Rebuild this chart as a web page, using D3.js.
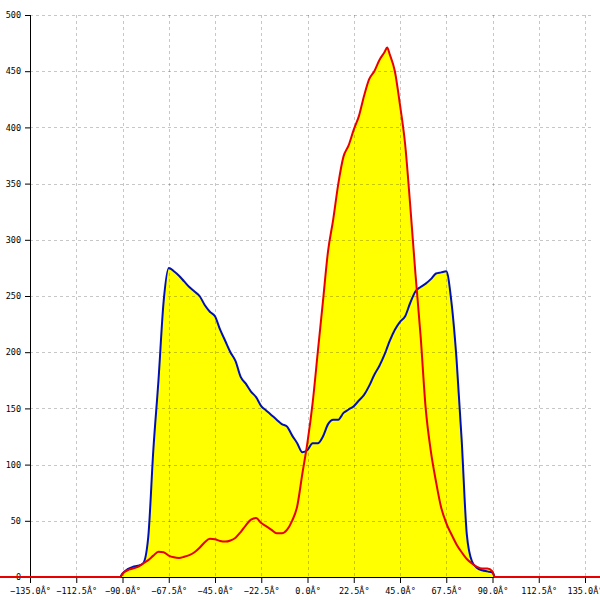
<!DOCTYPE html>
<html><head><meta charset="utf-8">
<script src="https://cdn.jsdelivr.net/npm/d3@7"></script>
<style>body{margin:0;background:#fff}svg{display:block}</style>
</head><body>
<svg id="c" width="600" height="600"></svg>
<script>
const angles = [-90,-87.5,-85,-82.5,-80,-77.5,-75,-72.5,-70,-67.5,-65,-62.5,-60,-57.5,-55,-52.5,-50,-47.5,-45,-42.5,-40,-37.5,-35,-32.5,-30,-27.5,-25,-22.5,-20,-17.5,-15,-12.5,-10,-7.5,-5,-2.5,0,2.5,5,7.5,10,12.5,15,17.5,20,22.5,25,27.5,30,32.5,35,37.5,38.75,40,42.5,45,47.5,50,52.5,55,57.5,60,62.5,65,67.5,70,72.5,75,77.5,80,82.5,85,87.5,90];
const blueValues = [3,7,9,10,12,35,113,175,245,275,272,268,263,258,254,250,242,236,232,220,210,200,192,178,172,165,160,152,148,144,140,136,134,126,119,111,113,119,119,125,136,140,140,146,149,152,157,162,170,180,188,198,204,210,220,227,232,244,254,258,261,265,270,271,272,245,194,122,38,14,8,6,5,4];
const redValues = [3,6,7.5,9,12,15,19,22.5,22,19,17.5,17,18,19.5,22,26,31,34,33.5,32,31.5,32.5,35,40,46,51,52.5,48,45,42,39,39,42,50,63,92,120,155,200,245,290,318,350,374,384,398,410,428,443,450,460,467,471,465,450,420,385,330,270,215,150,112,85,62,48,38,29,22,16,12,9,7.5,7.5,5];
const xTicks = [-135,-112.5,-90,-67.5,-45,-22.5,0,22.5,45,67.5,90,112.5,135];
const yTicks = [0,50,100,150,200,250,300,350,400,450,500];
const degSuffix = "Â°";

const svg = d3.select("#c");
const x = d3.scaleLinear().domain([-135,135]).range([30,585]);
const y = d3.scaleLinear().domain([0,500]).range([577,15]);

function series(vals, ext){
  const pts = angles.map((a,i)=>[a, vals[i]]);
  return [[ext[0],0]].concat(pts).concat([[ext[1],0]]);
}
const blue = series(blueValues, [-91, 91]);
const red = [[-160,0]].concat(series(redValues,[-91,91])).concat([[160,0]]);

const area = d3.area().x(d=>x(d[0])).y0(y(0)).y1(d=>y(d[1])).curve(d3.curveMonotoneX);
const line = d3.line().x(d=>x(d[0])).y(d=>y(d[1])).curve(d3.curveMonotoneX);

svg.append("path").attr("d", area(blue)).attr("fill","#ffff00");
svg.append("path").attr("d", area(red)).attr("fill","#ffff00");

// grid
const g = svg.append("g").attr("stroke","#000").attr("stroke-opacity",0.22).attr("stroke-dasharray","3,3").attr("stroke-width",1);
xTicks.forEach(t=>{ g.append("line").attr("x1",Math.round(x(t))+0.5).attr("x2",Math.round(x(t))+0.5).attr("y1",15).attr("y2",577); });
yTicks.filter(t=>t>0).forEach(t=>{ g.append("line").attr("x1",30).attr("x2",592).attr("y1",Math.round(y(t))+0.5).attr("y2",Math.round(y(t))+0.5); });

// axes
const xAxis = svg.append("g").attr("transform","translate(0,577)")
  .call(d3.axisBottom(x).tickValues(xTicks).tickSize(6).tickPadding(5).tickFormat(d=>d3.format(".1f")(d)+degSuffix));
const yAxis = svg.append("g").attr("transform","translate(30,0)")
  .call(d3.axisLeft(y).tickValues(yTicks).tickSize(5).tickPadding(4).tickFormat(d3.format("d")));
[xAxis,yAxis].forEach(a=>{
  a.selectAll("text").attr("font-family","'DejaVu Sans Mono', monospace").attr("font-size","8.5px").attr("fill","#000");
  a.selectAll("line,path").attr("stroke","#000");
});
yAxis.select(".domain").attr("d","M0.5,15V583");
xAxis.select(".domain").attr("d","M30,0.5H592");

svg.append("path").attr("d", line(blue)).attr("fill","none").attr("stroke","#0010b8").attr("stroke-width",2);
svg.append("path").attr("d", line(red)).attr("fill","none").attr("stroke","#e80000").attr("stroke-width",2);
</script>
</body></html>
